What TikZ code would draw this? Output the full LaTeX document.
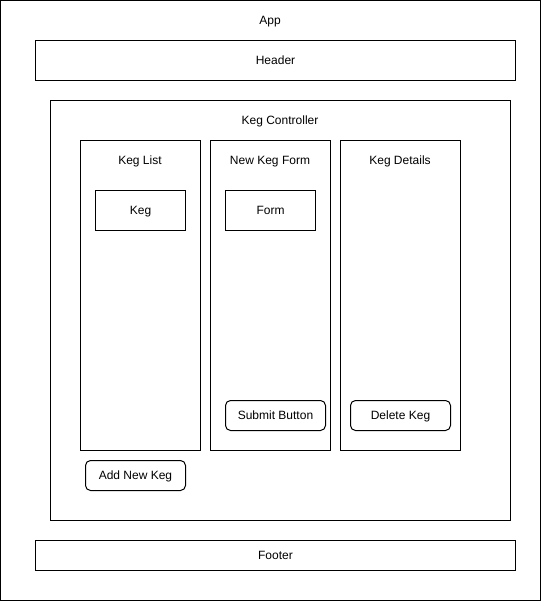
\documentclass[tikz,border=0pt]{standalone}
\usepackage{fontspec}
\setmainfont{Liberation Sans}
\begin{document}
\begin{tikzpicture}[x=1pt,y=-1pt,
  box/.style={draw=black, line width=1pt, fill=none, inner sep=0pt, outer sep=0pt},
  btn/.style={box, rounded corners=5pt},
  lbl/.style={font=\fontsize{12pt}{14pt}\selectfont, inner sep=0pt, text height=9.3pt, text depth=0.7pt}]
\useasboundingbox (0,0) rectangle (541,601);
% App
\node[box, minimum width=540pt, minimum height=600pt] (app) at (270.5,300.5) {};
\node[lbl] (applbl) at (270,20) {App};
% Header
\node[box, minimum width=480pt, minimum height=40pt, lbl] (header) at (275.5,60.5) {Header};
% Keg Controller
\node[box, minimum width=460pt, minimum height=420pt] (ctrl) at (280.5,310.5) {};
\node[lbl] (ctrllbl) at (280,120) {Keg Controller};
% Columns
\node[box, minimum width=120pt, minimum height=310pt] (list) at (140.5,295.5) {};
\node[lbl] (listlbl) at (140,160) {Keg List};
\node[box, minimum width=120pt, minimum height=310pt] (form) at (270.5,295.5) {};
\node[lbl] (formlbl) at (270,160) {New Keg Form};
\node[box, minimum width=120pt, minimum height=310pt] (details) at (400.5,295.5) {};
\node[lbl] (detailslbl) at (400,160) {Keg Details};
% Inner items
\node[box, minimum width=90pt, minimum height=40pt, lbl] (keg) at (140.5,210.5) {Keg};
\node[box, minimum width=90pt, minimum height=40pt, lbl] (formbox) at (270.5,210.5) {Form};
\node[btn, minimum width=100pt, minimum height=30pt, lbl] (submit) at (275.5,415.5) {Submit Button};
\node[btn, minimum width=100pt, minimum height=30pt, lbl] (delete) at (400.5,415.5) {Delete Keg};
\node[btn, minimum width=100pt, minimum height=30pt, lbl] (addnew) at (135.5,475.5) {Add New Keg};
% Footer
\node[box, minimum width=480pt, minimum height=30pt, lbl] (footer) at (275.5,555.5) {Footer};
\end{tikzpicture}
\end{document}
